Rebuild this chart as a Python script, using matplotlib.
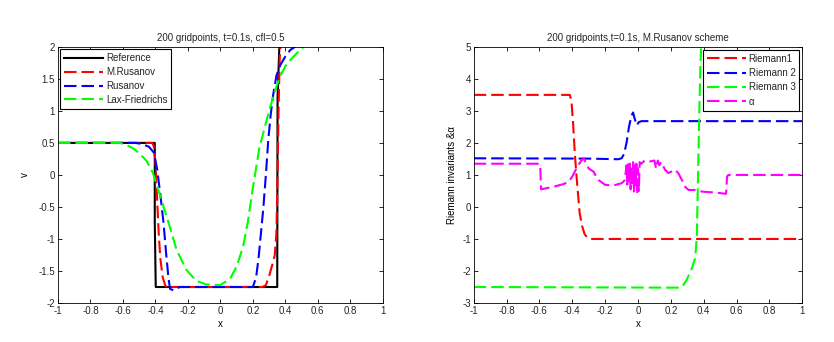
import matplotlib.pyplot as plt

plt.rcParams['font.family'] = ['Liberation Sans', 'DejaVu Sans']
plt.rcParams['axes.unicode_minus'] = False
plt.rcParams['font.size'] = 7
plt.rcParams['text.color'] = '#262626'
plt.rcParams['xtick.labelcolor'] = '#262626'
plt.rcParams['ytick.labelcolor'] = '#262626'

# ---- left panel: v at t=0.1s ----
ref_x = [-1, -0.404, -0.404, -0.398, 0.350, 0.352, 0.367, 0.38, 1]
ref_v = [0.5, 0.5, -0.73, -1.75, -1.75, 1.2, 2.3, 2.3, 2.3]

mrus_x = [-1, -0.42, -0.41, -0.40, -0.39, -0.38, -0.37, -0.355, -0.34, -0.33, -0.30,
          0.26, 0.28, 0.30, 0.32, 0.335, 0.345, 0.352, 0.358, 0.365, 0.372]
mrus_v = [0.5, 0.5, 0.45, 0.2, -0.35, -0.9, -1.3, -1.6, -1.72, -1.76, -1.75,
          -1.75, -1.72, -1.58, -1.4, -1.25, -0.9, 0.0, 1.0, 1.8, 2.2]

rus_x = [-1, -0.52, -0.48, -0.44, -0.41, -0.39, -0.37, -0.35, -0.335, -0.32, -0.31, -0.29,
         -0.25, 0.20, 0.22, 0.235, 0.25, 0.265, 0.28, 0.295, 0.31, 0.325, 0.345,
         0.37, 0.40, 0.43, 0.47]
rus_v = [0.5, 0.5, 0.48, 0.44, 0.35, 0.1, -0.3, -0.75, -1.2, -1.6, -1.78, -1.8,
         -1.75, -1.75, -1.6, -1.3, -0.9, -0.5, 0.0, 0.55, 0.95, 1.25, 1.55,
         1.72, 1.85, 1.95, 2.02]

lf_x = [-1, -0.62, -0.58, -0.54, -0.50, -0.455, -0.415, -0.383, -0.352, -0.31, -0.27,
        -0.21, -0.15, -0.09, 0.0, 0.06, 0.10, 0.14, 0.17, 0.20, 0.24, 0.285, 0.325,
        0.365, 0.41, 0.47, 0.52]
lf_v = [0.5, 0.5, 0.47, 0.42, 0.34, 0.22, 0.03, -0.23, -0.48, -0.82, -1.17,
        -1.48, -1.65, -1.71, -1.72, -1.62, -1.43, -1.12, -0.72, -0.2, 0.42, 0.86, 1.22,
        1.53, 1.74, 1.9, 2.02]

# ---- right panel: Riemann invariants & alpha ----
r1_x = [-1, -0.415, -0.405, -0.395, -0.385, -0.375, -0.365, -0.355, -0.34, -0.325,
        -0.31, -0.29, 1]
r1_y = [3.5, 3.5, 3.3, 2.6, 1.7, 1.0, 0.4, -0.2, -0.6, -0.85, -0.95, -1.0, -1.0]

r2_x = [-1, -0.3, -0.12, -0.10, -0.085, -0.07, -0.055, -0.04, -0.03, -0.02, -0.008,
        0.005, 0.022, 1]
r2_y = [1.52, 1.51, 1.49, 1.52, 1.65, 2.0, 2.5, 2.85, 2.95, 2.75, 2.55, 2.65, 2.68, 2.68]

r3_x = [-1, 0.20, 0.26, 0.277, 0.297, 0.328, 0.348, 0.358, 0.364, 0.372, 0.379, 0.385]
r3_y = [-2.5, -2.52, -2.52, -2.43, -2.27, -1.91, -1.6, -0.92, 0.64, 2.71, 4.27, 5.1]

al_x = [-1, -0.60, -0.595, -0.59, -0.5, -0.45, -0.42, -0.40, -0.37, -0.345, -0.33,
        -0.315, -0.30, -0.285, -0.27, -0.255, -0.24, -0.2, -0.15, -0.1, -0.08,
        -0.07, -0.065, -0.06, -0.055, -0.05, -0.045, -0.04, -0.035, -0.03, -0.025,
        -0.02, -0.015, -0.01, -0.005, 0.0, 0.005, 0.01, 0.02, 0.04, 0.07, 0.10,
        0.11, 0.12, 0.13, 0.14, 0.165, 0.185, 0.206, 0.226, 0.246, 0.267, 0.287,
        0.307, 0.348, 0.389, 0.47, 0.536, 0.542, 0.55, 1]
al_y = [1.35, 1.35, 1.25, 0.55, 0.65, 0.72, 0.8, 0.95, 1.25, 1.45, 1.52,
        1.35, 1.2, 1.15, 1.1, 0.95, 0.84, 0.69, 0.67, 0.74, 0.84,
        1.3, 0.7, 1.4, 0.8, 1.35, 0.55, 1.3, 0.7, 1.4, 0.45, 1.3, 0.6, 1.35,
        0.4, 1.2, 0.5, 1.4, 1.35, 1.45, 1.42, 1.45, 1.2, 1.45, 1.3, 1.4,
        1.16, 1.06, 1.11, 1.16, 1.05, 0.84, 0.63, 0.53, 0.53, 0.48, 0.45, 0.41,
        0.95, 1.0, 1.0]

xticks = [-1, -0.8, -0.6, -0.4, -0.2, 0, 0.2, 0.4, 0.6, 0.8, 1]
xticklabels = ['-1', '-0.8', '-0.6', '-0.4', '-0.2', '0', '0.2', '0.4', '0.6', '0.8', '1']

fig = plt.figure(figsize=(8.34, 3.42), dpi=100)
ax1 = fig.add_axes([0.0695, 0.114, 0.3895, 0.749])
ax2 = fig.add_axes([0.568, 0.114, 0.394, 0.749])

dash = (0, (6, 2.4))
ax1.plot(ref_x, ref_v, color='k', lw=1.5, label='Reference')
ax1.plot(mrus_x, mrus_v, color='r', lw=1.5, ls=dash, label='M.Rusanov')
ax1.plot(rus_x, rus_v, color='b', lw=1.5, ls=dash, label='Rusanov')
ax1.plot(lf_x, lf_v, color='#00ff00', lw=1.5, ls=dash, label='Lax-Friedrichs')
ax1.set_xlim(-1, 1)
ax1.set_ylim(-2, 2)
ax1.set_xticks(xticks)
ax1.set_xticklabels(xticklabels)
ax1.set_yticks([-2, -1.5, -1, -0.5, 0, 0.5, 1, 1.5, 2])
ax1.set_yticklabels(['-2', '-1.5', '-1', '-0.5', '0', '0.5', '1', '1.5', '2'])
ax1.set_title('200 gridpoints, t=0.1s, cfl=0.5', fontsize=7, pad=4)
ax1.set_xlabel('x', labelpad=2)
ax1.set_ylabel('v', labelpad=6)
leg1 = ax1.legend(loc='upper left', handlelength=4.0, fancybox=False, framealpha=1,
                  edgecolor='k', borderaxespad=0.25, labelspacing=0.4, borderpad=0.4,
                  handletextpad=0.3)
leg1.get_frame().set_linewidth(0.8)

ax2.plot(r1_x, r1_y, color='r', lw=1.5, ls=dash, label='Riemann1')
ax2.plot(r2_x, r2_y, color='b', lw=1.5, ls=dash, label='Riemann 2')
ax2.plot(r3_x, r3_y, color='#00ff00', lw=1.5, ls=dash, label='Riemann 3')
ax2.plot(al_x, al_y, color='#ff00ff', lw=1.5, ls=dash, label='\u03b1')
ax2.set_xlim(-1, 1)
ax2.set_ylim(-3, 5)
ax2.set_xticks(xticks)
ax2.set_xticklabels(xticklabels)
ax2.set_yticks([-3, -2, -1, 0, 1, 2, 3, 4, 5])
ax2.set_yticklabels(['-3', '-2', '-1', '0', '1', '2', '3', '4', '5'])
ax2.set_title('200 gridpoints,t=0.1s, M.Rusanov scheme', fontsize=7, pad=4)
ax2.set_xlabel('x', labelpad=2)
ax2.set_ylabel('Riemann invariants &\u03b1', labelpad=4)
leg2 = ax2.legend(loc='upper right', handlelength=4.0, fancybox=False, framealpha=1,
                  edgecolor='k', borderaxespad=0.3, labelspacing=0.45, borderpad=0.4,
                  handletextpad=0.3)
leg2.get_frame().set_linewidth(0.8)

for ax in (ax1, ax2):
    ax.tick_params(direction='in', top=True, right=True, length=3, width=0.6,
                   labelsize=7, pad=2)
    for s in ax.spines.values():
        s.set_linewidth(0.6)

fig.savefig('out.png', dpi=100)
